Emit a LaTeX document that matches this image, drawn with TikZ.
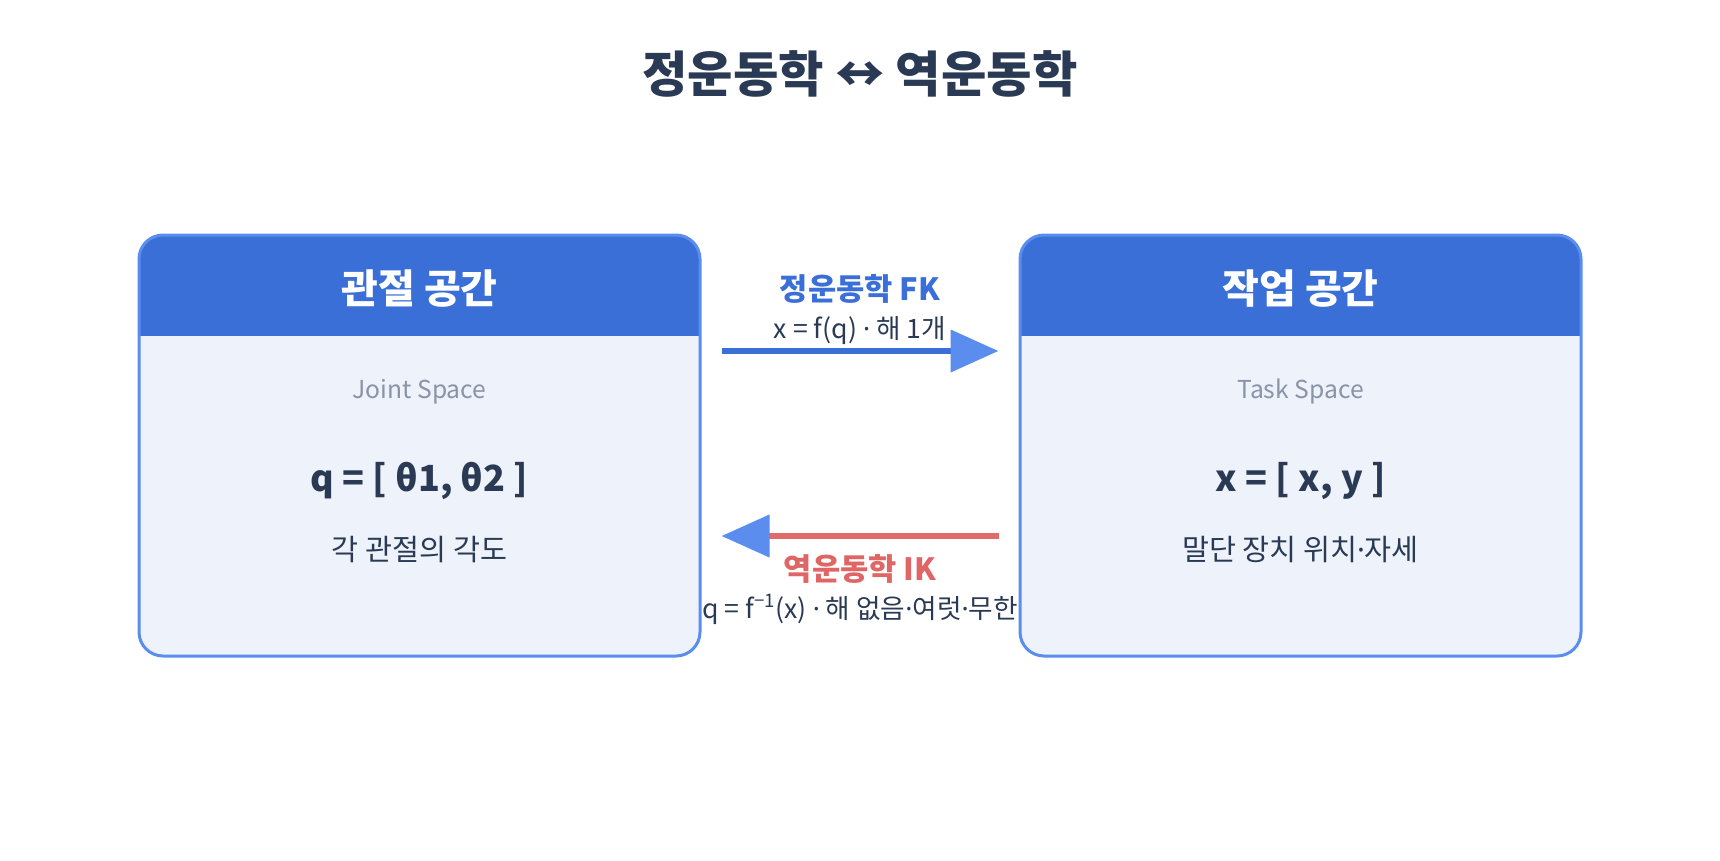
\documentclass[tikz,border=0pt]{standalone}
\usepackage{fontspec}
\setmainfont{Noto Sans CJK KR}
\newfontfamily\dotfont{Noto Sans}
\newcommand{\md}{{\dotfont ·}}
\usetikzlibrary{arrows.meta}
\definecolor{hdrblue}{HTML}{3A6FD8}
\definecolor{bordblue}{HTML}{5B8DEF}
\definecolor{bodyfill}{HTML}{EDF2FB}
\definecolor{darktxt}{HTML}{2A3A55}
\definecolor{graytxt}{HTML}{8A94A8}
\definecolor{redln}{HTML}{E06B6B}
\definecolor{redtxt}{HTML}{E06666}
\begin{document}
\begin{tikzpicture}[x=0.75pt,y=-0.75pt,
  panel/.style={draw=bordblue, line width=2.25pt, fill=bodyfill, rounded corners=18pt,
    minimum width=420.75pt, minimum height=315.75pt, inner sep=0pt,
    path picture={\fill[hdrblue, sharp corners] (path picture bounding box.north west) rectangle ([yshift=-75.75pt]path picture bounding box.north east);}},
  txt/.style={anchor=base, inner sep=0pt, text=darktxt},
  ttl/.style={txt, font=\fontsize{37pt}{42pt}\selectfont\bfseries},
  hdr/.style={txt, text=white, font=\fontsize{30pt}{34pt}\selectfont\bfseries},
  sub/.style={txt, text=graytxt, font=\fontsize{18.5pt}{22pt}\selectfont},
  formula/.style={txt, font=\fontsize{27pt}{31pt}\selectfont\bfseries},
  desc/.style={txt, font=\fontsize{22pt}{26pt}\selectfont},
  lbl/.style={txt, font=\fontsize{23pt}{27pt}\selectfont\bfseries},
  lblsub/.style={txt, font=\fontsize{20pt}{24pt}\selectfont},
  conn/.style={line width=4.75pt, -{Triangle[length=36pt,width=31pt,color=bordblue]}}
]
\useasboundingbox (0,0) rectangle (1720,860);
\node[ttl] (title) at (860,92) {정운동학 ↔ 역운동학};

\node[panel] (L) at (419.5,445.5) {};
\node[panel] (R) at (1300.5,445.5) {};

\node[hdr] (Lh) at (419.5,303) {관절 공간};
\node[sub] (Ls) at (419.5,398) {Joint Space};
\node[formula] (Lf) at (419.5,491) {q = [ θ1, θ2 ]};
\node[desc] (Ld) at (419.5,560) {각 관절의 각도};

\node[hdr] (Rh) at (1300.5,303) {작업 공간};
\node[sub] (Rs) at (1300.5,398) {Task Space};
\node[formula] (Rf) at (1300.5,491) {x = [ x, y ]};
\node[desc] (Rd) at (1300.5,560) {말단 장치 위치\md 자세};

\draw[conn, draw=hdrblue] ([shift={(20,-94.5)}]L.east) -- ([shift={(-20,-94.5)}]R.west);
\draw[conn, draw=redln] ([shift={(-20,90.5)}]R.west) -- ([shift={(20,90.5)}]L.east);

\node[lbl, text=hdrblue] (fk) at (860,300) {정운동학 FK};
\node[lblsub] (fks) at (860,338) {x = f(q) \md\ 해 1개};
\node[lbl, text=redtxt] (ik) at (860,580) {역운동학 IK};
\node[lblsub] (iks) at (860,618) {q = f\textsuperscript{−1}(x) \md\ 해 없음\md 여럿\md 무한};
\end{tikzpicture}
\end{document}
